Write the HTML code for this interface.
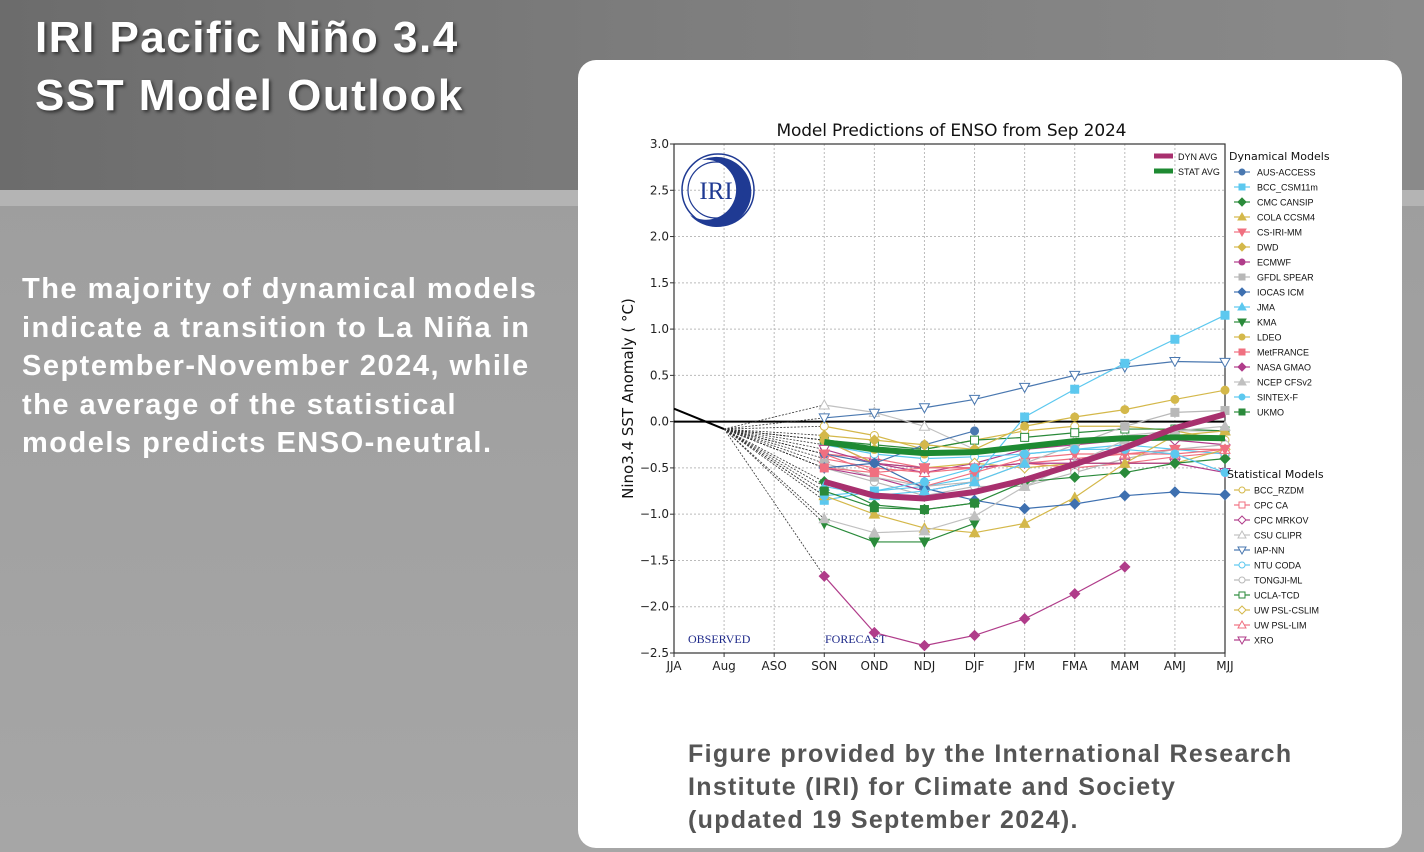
<!DOCTYPE html>
<html><head><meta charset="utf-8">
<style>
html,body{margin:0;padding:0;}
body{width:1424px;height:852px;position:relative;overflow:hidden;font-family:"Liberation Sans",sans-serif;
background:linear-gradient(#9c9c9c,#a6a6a6);}
#topband{position:absolute;left:0;top:0;width:1424px;height:190px;background:linear-gradient(90deg,#6c6c6c,#7e7e7e 50%,#8a8a8a);}
#stripe{position:absolute;left:0;top:190px;width:1424px;height:16px;background:#b4b4b4;}
#title{position:absolute;left:35px;top:9px;color:#fff;font-weight:bold;font-size:44px;line-height:58px;letter-spacing:1.5px;text-shadow:2px 2px 3px #333;}
#body{position:absolute;left:22px;top:270px;color:#fff;font-weight:bold;font-size:29px;line-height:38.5px;letter-spacing:1.5px;}
#panel{position:absolute;left:578px;top:60px;width:824px;height:788px;background:#fff;border-radius:18px;}
#caption{position:absolute;left:688px;top:738px;color:#555;font-weight:bold;font-size:25px;line-height:33px;letter-spacing:1.3px;}
svg{position:absolute;left:0;top:0;}
</style></head><body>
<div id="topband"></div>
<div id="stripe"></div>
<div id="title">IRI Pacific Niño 3.4<br>SST Model Outlook</div>
<div id="body">The majority of dynamical models<br>indicate a transition to La Niña in<br>September-November 2024, while<br>the average of the statistical<br>models predicts ENSO-neutral.</div>
<div id="panel"></div>
<div id="caption">Figure provided by the International Research<br>Institute (IRI) for Climate and Society<br>(updated 19 September 2024).</div>
<svg id="chart" width="1424" height="852"></svg>
<script>
const categories=["JJA","Aug","ASO","SON","OND","NDJ","DJF","JFM","FMA","MAM","AMJ","MJJ"];
const yTicks=[3.0,2.5,2.0,1.5,1.0,0.5,0.0,-0.5,-1.0,-1.5,-2.0,-2.5];
const observed=[0.14,-0.08];
const dynNames=["AUS-ACCESS","BCC_CSM11m","CMC CANSIP","COLA CCSM4","CS-IRI-MM","DWD","ECMWF","GFDL SPEAR","IOCAS ICM","JMA","KMA","LDEO","MetFRANCE","NASA GMAO","NCEP CFSv2","SINTEX-F","UKMO"];
const dynColors=["#4a78b0","#5cc8ef","#2a8a3a","#d4b84a","#f07080","#d4b84a","#b03c8a","#b8b8b8","#3e70b0","#5cc8ef","#2a8a3a","#d4b84a","#f07080","#b03c8a","#c0c0c0","#5cc8ef","#2a8a3a"];
const dynMarkers=["o","s","D","^","v","D","o","s","D","^","v","o","s","D","^","o","s"];
const dynValues=[
[-0.35,-0.45,-0.25,-0.1,null,null,null,null,null],
[-0.85,-0.75,-0.7,-0.6,0.05,0.35,0.63,0.89,1.15],
[-0.65,-0.9,-0.95,-0.88,-0.65,-0.6,-0.55,-0.45,-0.4],
[-0.8,-1.0,-1.15,-1.2,-1.1,-0.82,-0.45,-0.15,-0.1],
[-0.35,-0.55,-0.7,-0.55,-0.4,-0.35,-0.35,-0.3,-0.3],
[-0.15,-0.2,-0.25,-0.3,null,null,null,null,null],
[-0.5,-0.6,-0.75,-0.65,null,null,null,null,null],
[-0.45,-0.6,-0.7,-0.65,-0.45,-0.25,-0.05,0.1,0.12],
[-0.5,-0.45,-0.72,-0.85,-0.94,-0.89,-0.8,-0.76,-0.79],
[-0.7,-0.8,-0.75,-0.65,-0.45,null,null,null,null],
[-1.1,-1.3,-1.3,-1.1,null,null,null,null,null],
[-0.2,-0.3,-0.35,-0.3,-0.05,0.05,0.13,0.24,0.34],
[-0.5,-0.55,-0.5,-0.5,null,null,null,null,null],
[-1.67,-2.28,-2.42,-2.31,-2.13,-1.86,-1.57,null,null],
[-1.05,-1.2,-1.18,-1.02,-0.7,-0.45,-0.2,-0.1,-0.05],
[-0.8,-0.75,-0.65,-0.5,-0.35,-0.3,-0.3,-0.35,-0.55],
[-0.75,-0.93,-0.95,-0.88,null,null,null,null,null]];
const statNames=["BCC_RZDM","CPC CA","CPC MRKOV","CSU CLIPR","IAP-NN","NTU CODA","TONGJI-ML","UCLA-TCD","UW PSL-CSLIM","UW PSL-LIM","XRO"];
const statColors=["#d4b84a","#f07080","#b03c8a","#c0c0c0","#4a78b0","#5cc8ef","#b8b8b8","#2a8a3a","#d4b84a","#f07080","#b03c8a"];
const statMarkers=["o","s","D","^","v","o","o","s","D","^","v"];
const statValues=[
[-0.05,-0.15,-0.3,-0.2,-0.1,-0.05,-0.05,-0.1,-0.2],
[-0.35,-0.4,-0.5,-0.5,-0.45,-0.5,-0.45,-0.38,-0.33],
[-0.2,-0.45,-0.55,-0.45,-0.3,-0.25,-0.2,-0.2,-0.25],
[0.18,0.1,-0.05,-0.3,-0.3,-0.2,-0.15,-0.1,-0.1],
[0.04,0.09,0.15,0.24,0.37,0.5,0.59,0.65,0.64],
[-0.25,-0.35,-0.4,-0.38,-0.35,-0.3,-0.25,-0.3,-0.35],
[-0.5,-0.65,-0.8,-0.7,-0.7,-0.55,-0.4,-0.3,-0.25],
[-0.2,-0.25,-0.3,-0.2,-0.17,-0.12,-0.08,-0.08,-0.1],
[-0.2,-0.45,-0.5,-0.45,-0.5,-0.45,-0.45,-0.45,-0.3],
[-0.4,-0.5,-0.55,-0.5,-0.45,-0.4,-0.35,-0.35,-0.3],
[-0.3,-0.45,-0.5,-0.5,-0.45,-0.45,-0.45,-0.45,-0.55]];
const dynAvg=[-0.65,-0.8,-0.83,-0.76,-0.63,-0.46,-0.28,-0.07,0.08];
const statAvg=[-0.22,-0.3,-0.34,-0.33,-0.27,-0.21,-0.18,-0.17,-0.18];

const svg=document.getElementById('chart');
const NS="http://www.w3.org/2000/svg";
const X0=674,X1=1225,Y0=144,Y1=653;
function xs(i){return X0+(X1-X0)*i/(categories.length-1);}
function ys(v){return Y0+(3-v)*(Y1-Y0)/5.5;}
function mk(tag,attrs,parent){const e=document.createElementNS(NS,tag);for(const k in attrs)e.setAttribute(k,attrs[k]);(parent||svg).appendChild(e);return e;}
function txt(x,y,s,attrs){const t=mk('text',Object.assign({x:x,y:y},attrs));t.textContent=s;return t;}

yTicks.forEach(v=>{const l=mk('line',{x1:X0,x2:X1,y1:ys(v),y2:ys(v),stroke:'#bbb','stroke-dasharray':'2,2','stroke-width':1});


const t=txt(X0-5,ys(v)+4,v.toFixed(1).replace('-','\u2212'),{'font-size':12,'text-anchor':'end',fill:'#222','font-family':'DejaVu Sans, sans-serif'});


mk('line',{x1:X0-4,x2:X0,y1:ys(v),y2:ys(v),stroke:'#333'});});
categories.forEach((c,i)=>{const l=mk('line',{x1:xs(i),x2:xs(i),y1:Y0,y2:Y1,stroke:'#bbb','stroke-dasharray':'2,2','stroke-width':1});


const t=txt(xs(i),Y1+17,c,{'font-size':12,'text-anchor':'middle',fill:'#222','font-family':'DejaVu Sans, sans-serif'});


mk('line',{x1:xs(i),x2:xs(i),y1:Y1,y2:Y1+4,stroke:'#333'});});
const frame=mk('rect',{x:X0,y:Y0,width:X1-X0,height:Y1-Y0,fill:'none',stroke:'#333','stroke-width':1.2});


const ttl=txt((X0+X1)/2+2,136,'Model Predictions of ENSO from Sep 2024',{'font-size':17,'text-anchor':'middle',fill:'#111','font-family':'DejaVu Sans, sans-serif','textLength':350});


const yl=txt(0,0,'Nino3.4 SST Anomaly ( \u00b0C)',{'font-size':15,'text-anchor':'middle',fill:'#111','font-family':'DejaVu Sans, sans-serif',transform:'translate(633,'+(Y0+Y1)/2+') rotate(-90)'});


const zl=mk('line',{x1:X0,x2:X1,y1:ys(0),y2:ys(0),stroke:'#000','stroke-width':2});


const lg=mk('g',{});


mk('circle',{cx:718,cy:190,r:36,fill:'none',stroke:'#1f3a93','stroke-width':1.5},lg);
mk('path',{d:'M 702 160 A 35 35 0 1 1 690 215 A 30 30 0 1 0 702 160 Z',fill:'#1f3a93'},lg);
mk('circle',{cx:716,cy:190,r:28,fill:'none',stroke:'#1f3a93','stroke-width':1.2},lg);
txt(716,199,'IRI',{'font-size':25,'text-anchor':'middle',fill:'#1f3a93','font-family':'Liberation Serif, serif'},lg);
const ob=txt(688,643,'OBSERVED',{'font-size':12,fill:'#1f2a8a','font-family':'Liberation Serif, serif'});


const fc=txt(825,643,'FORECAST',{'font-size':12,fill:'#1f2a8a','font-family':'Liberation Serif, serif'});



function marker(type,x,y,color,filled,parent,r){
  r=r||4;const f=filled?color:'#fff';let e;
  if(type==='o')e=mk('circle',{cx:x,cy:y,r:r},parent);
  else if(type==='s')e=mk('rect',{x:x-r,y:y-r,width:2*r,height:2*r},parent);
  else if(type==='D')e=mk('polygon',{points:`${x},${y-r-1} ${x+r+1},${y} ${x},${y+r+1} ${x-r-1},${y}`},parent);
  else if(type==='^')e=mk('polygon',{points:`${x},${y-r-1} ${x+r+1},${y+r} ${x-r-1},${y+r}`},parent);
  else e=mk('polygon',{points:`${x},${y+r+1} ${x+r+1},${y-r} ${x-r-1},${y-r}`},parent);
  e.setAttribute('fill',f);e.setAttribute('stroke',color);e.setAttribute('stroke-width',1);
  return e;
}
function series(vals,color,m,filled,name){
  const g=mk('g',{});
  
  
  mk('line',{x1:xs(1),y1:ys(observed[1]),x2:xs(3),y2:ys(vals[0]),stroke:'#333','stroke-width':0.8,'stroke-dasharray':'2,1.5'},g);
  const pts=[];vals.forEach((v,i)=>{if(v!==null)pts.push(xs(i+3)+','+ys(v));});
  mk('polyline',{points:pts.join(' '),fill:'none',stroke:color,'stroke-width':1.2},g);
  vals.forEach((v,i)=>{if(v!==null)marker(m,xs(i+3),ys(v),color,filled,g);});
}
statValues.forEach((v,i)=>series(v,statColors[i],statMarkers[i],false,statNames[i]));
dynValues.forEach((v,i)=>series(v,dynColors[i],dynMarkers[i],true,dynNames[i]));
function avg(vals,color,name){
  const p=mk('polyline',{points:vals.map((v,i)=>xs(i+3)+','+ys(v)).join(' '),fill:'none',stroke:color,'stroke-width':6,'stroke-linejoin':'round'});
  
  
}
avg(statAvg,'#1e8a32','stat-avg-line');
avg(dynAvg,'#a8306e','dyn-avg-line');
const obs=mk('polyline',{points:observed.map((v,i)=>xs(i)+','+ys(v)).join(' '),fill:'none',stroke:'#000','stroke-width':2});



const la=mk('g',{});


mk('line',{x1:1154,x2:1173,y1:156,y2:156,stroke:'#a8306e','stroke-width':5},la);
txt(1178,160,'DYN AVG',{'font-size':9,fill:'#111'},la);
mk('line',{x1:1154,x2:1173,y1:171,y2:171,stroke:'#1e8a32','stroke-width':5},la);
txt(1178,175,'STAT AVG',{'font-size':9,fill:'#111'},la);
const h1=txt(1229,160,'Dynamical Models',{'font-size':11,fill:'#111','font-family':'DejaVu Sans, sans-serif'});


dynNames.forEach((n,i)=>{const y=172+i*15;const g=mk('g',{});


mk('line',{x1:1234,x2:1250,y1:y,y2:y,stroke:dynColors[i],'stroke-width':1.2},g);
marker(dynMarkers[i],1242,y,dynColors[i],true,g,3);
txt(1257,y+3.5,n,{'font-size':9,fill:'#111'},g);});
const h2=txt(1227,478,'Statistical Models',{'font-size':11,fill:'#111','font-family':'DejaVu Sans, sans-serif'});


statNames.forEach((n,i)=>{const y=490+i*15;const g=mk('g',{});


mk('line',{x1:1234,x2:1250,y1:y,y2:y,stroke:statColors[i],'stroke-width':1.2},g);
marker(statMarkers[i],1242,y,statColors[i],false,g,3);
txt(1254,y+3.5,n,{'font-size':9,fill:'#111'},g);});
</script>
</body></html>
